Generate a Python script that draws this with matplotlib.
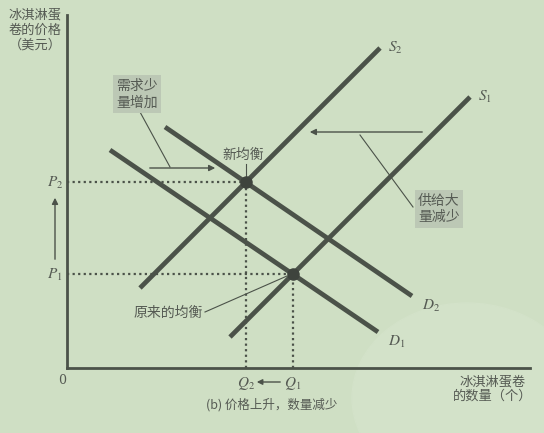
import matplotlib.pyplot as plt
from matplotlib.patches import Ellipse

plt.rcParams['font.family'] = ['Noto Sans CJK SC', 'DejaVu Sans']
plt.rcParams['mathtext.fontset'] = 'stix'

# curve endpoints (quantity, price) in chart units
s1 = [(163, 31), (403, 271)]
s2 = [(73, 80), (313, 320)]
d1 = [(43, 218), (311, 36)]
d2 = [(98, 241), (345, 72)]
curve_labels = ['$S_1$', '$S_2$', '$D_1$', '$D_2$']

BG = '#cfdfc4'
INK = '#4b5249'
TXT = '#555a53'


def intersect(a, b):
    (x1, y1), (x2, y2) = a
    (x3, y3), (x4, y4) = b
    m1 = (y2 - y1) / (x2 - x1)
    m2 = (y4 - y3) / (x4 - x3)
    x = (y3 - y1 + m1 * x1 - m2 * x3) / (m1 - m2)
    return x, y1 + m1 * (x - x1)


old_eq = intersect(s1, d1)
new_eq = intersect(s2, d2)

fig = plt.figure(figsize=(5.44, 4.33), dpi=100, facecolor=BG)
ax = fig.add_axes([0, 0, 1, 1])
ax.set_xlim(-67, 477)
ax.set_ylim(-65, 368)
ax.set_facecolor(BG)
ax.axis('off')

# faint watermark blob
ax.add_patch(Ellipse((400, -30), 230, 190, color='#d3e2c9', zorder=0))

# axes
ax.plot([0, 0], [0, 353], color=INK, lw=2)
ax.plot([0, 463], [0, 0], color=INK, lw=2)
ax.text(-5, -12, '0', ha='center', va='center', fontsize=9, color=TXT, family='DejaVu Serif')

# dotted guides
for eq in (old_eq, new_eq):
    ax.plot([0, eq[0]], [eq[1], eq[1]], color=INK, lw=1.6, ls=(0, (1, 1.5)))
    ax.plot([eq[0], eq[0]], [0, eq[1]], color=INK, lw=1.6, ls=(0, (1, 1.5)))

# curves
for c, lab in zip([s1, s2, d1, d2], curve_labels):
    xs, ys = zip(*c)
    ax.plot(xs, ys, color=INK, lw=3.4, solid_capstyle='butt')
    if lab.startswith('$S'):
        ax.text(xs[1] + 8, ys[1], lab, fontsize=11, color=TXT, va='center')
    else:
        ax.text(xs[1] + 10, ys[1] - 9, lab, fontsize=11, color=TXT, va='center')

for eq in (old_eq, new_eq):
    ax.plot(*eq, 'o', color='#3e443d', ms=8, zorder=5)

# P and Q labels
ax.text(-12, new_eq[1], '$P_2$', fontsize=11, color=TXT, ha='center', va='center')
ax.text(-12, old_eq[1], '$P_1$', fontsize=11, color=TXT, ha='center', va='center')
ax.annotate('', xy=(-12, 173), xytext=(-12, 106),
            arrowprops=dict(arrowstyle='-|>', color=INK, lw=1, mutation_scale=9))
ax.text(new_eq[0], -15, '$Q_2$', fontsize=11, color=TXT, ha='center', va='center')
ax.text(old_eq[0], -15, '$Q_1$', fontsize=11, color=TXT, ha='center', va='center')
ax.annotate('', xy=(187, -14), xytext=(216, -14),
            arrowprops=dict(arrowstyle='-|>', color=INK, lw=1, mutation_scale=8))

# axis titles
ax.text(-32, 338, '冰淇淋蛋\n卷的价格\n（美元）', fontsize=9.5, color=TXT,
        ha='center', va='center', linespacing=1.2)
ax.text(426, -21, '冰淇淋蛋卷\n的数量（个）', fontsize=9.5, color=TXT,
        ha='center', va='center', linespacing=1.2)
ax.text(205, -37, '(b) 价格上升，数量减少', fontsize=9, color=TXT,
        ha='center', va='center')

# annotations
box = dict(boxstyle='square,pad=0.25', facecolor='#bcc8b5', edgecolor='none')
ax.text(70, 274, '需求少\n量增加', fontsize=10, color=TXT, ha='center', va='center',
        bbox=box, linespacing=1.25)
ax.plot([73, 103], [256, 201], color=INK, lw=0.8)
ax.annotate('', xy=(151, 200), xytext=(80, 200),
            arrowprops=dict(arrowstyle='-|>', color=INK, lw=1, mutation_scale=9))

ax.text(176, 213, '新均衡', fontsize=10, color=TXT, ha='center', va='center')
ax.plot([179, 179], [190, 204], color=INK, lw=0.8)

ax.annotate('', xy=(240, 236), xytext=(358, 236),
            arrowprops=dict(arrowstyle='-|>', color=INK, lw=1, mutation_scale=9))
ax.plot([293, 346], [233, 161], color=INK, lw=0.8)
ax.text(372, 159, '供给大\n量减少', fontsize=10, color=TXT, ha='center', va='center',
        bbox=box, linespacing=1.25)

ax.text(101, 55, '原来的均衡', fontsize=10, color=TXT, ha='center', va='center')
ax.plot([138, 220], [56, 92], color=INK, lw=0.8)

fig.savefig('out.png', dpi=100, facecolor=BG)
